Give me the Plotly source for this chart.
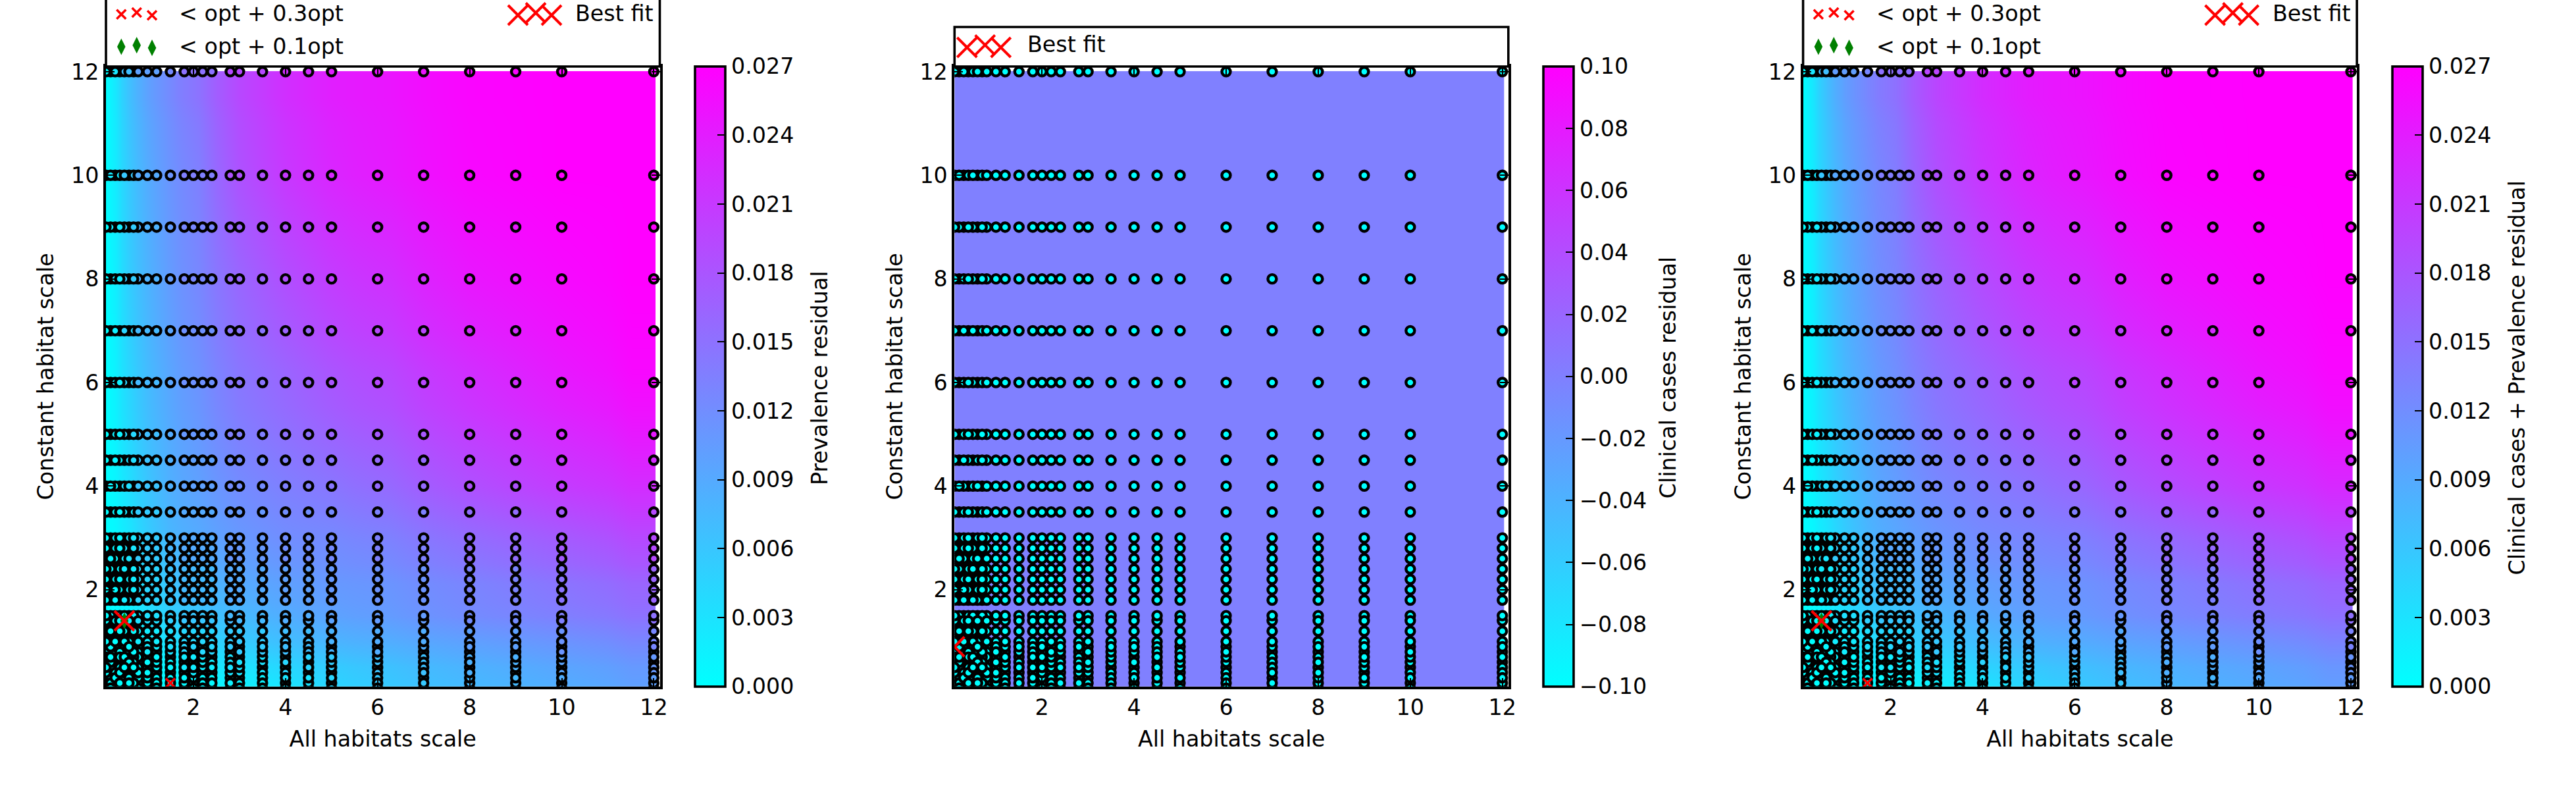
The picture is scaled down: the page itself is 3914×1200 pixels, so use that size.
import numpy as np
import plotly.graph_objects as go

# ---- data ----
scan_x = [0.1,0.2,0.3,0.4,0.5,0.6,0.7,0.8,1.0,1.2,1.5,1.8,2.0,2.2,2.4,2.8,3.0,3.5,4.0,4.5,5.0,6.0,7.0,8.0,9.0,10.0,12.0]
scan_y = [0.1,0.2,0.3,0.4,0.5,0.6,0.7,0.8,0.9,1.0,1.2,1.4,1.5,1.8,2.0,2.2,2.4,2.6,2.8,3.0,3.5,4.0,4.5,5.0,6.0,7.0,8.0,9.0,10.0,12.0]

# the residual surface is tabulated on these anchors (13 columns x 12 rows)
surface_x = [0.1,0.3,0.6,1,1.5,2,3,4,5,6,8,10,12]
surface_y = [0.1,0.5,1,1.5,2,3,4,5,6,8,10,12]
# cell edges of that table, as the colour mesh stops just inside the axes
surface_x_edges = [0.0,0.2,0.45,0.8,1.25,1.75,2.5,3.5,4.5,5.5,7,9,11,12.04]
surface_y_edges = [0.0,0.3,0.75,1.25,1.75,2.5,3.5,4.5,5.5,7,9,11,12.01]

# residuals, in thousandths
prevalence_milli = [
 [0,0,0,0,.3,.5,1.4,2.7,4.3,5.7,7.3,8.6,10],
 [0,0,0,.5,1.1,1.9,3,4.3,5.4,6.5,8.1,9.5,10.8],
 [0,0,.5,1.9,3.2,4.1,5.4,6.8,7.8,8.6,10,11.3,12.7],
 [0,.3,1.4,3.2,4.9,5.9,7.3,8.6,9.7,10.5,12.2,13.5,14.9],
 [0,.5,1.9,4.3,6.2,7.3,8.9,10,10.8,11.3,13,14.7,16.3],
 [0,.8,2.7,5.4,7.6,8.9,10.8,12,12.4,13.3,15.5,17.4,19.3],
 [0,1.1,3.5,6.2,8.4,10,12.2,13.5,14.5,15.8,18.5,20.7,22.3],
 [0,1.4,4.1,6.8,8.9,10.8,13.5,15,16.4,17.7,20.4,22.6,24.4],
 [0,1.6,4.6,7.3,9.5,11.6,14.6,16.4,18.1,19.5,22.2,24.5,26.2],
 [0,1.9,5.4,8.1,10.5,12.7,16.2,18.7,20.6,22,24.6,26,27],
 [0,2.2,5.9,8.9,11.3,13.5,18.4,21.1,23,24.3,26.2,27,27],
 [0,2.7,6.8,10,12.4,14.9,19.4,22.1,23.8,24.8,26.5,27,27],
]
combined_milli = [
 [0,0,0,0,.3,.5,1.4,2.7,4.3,5.7,7.5,8.9,10.3],
 [0,0,0,.5,1.1,1.9,3.2,4.6,5.7,6.8,8.4,9.7,11.1],
 [0,0,.5,1.9,3.2,4.1,5.7,7,8.1,8.9,10.3,11.6,13],
 [0,.3,1.4,3.2,4.9,5.9,7.6,8.9,10,10.8,12.4,13.8,15.1],
 [0,.5,1.9,4.3,6.2,7.3,9.2,10.2,11,11.6,13.3,15,16.5],
 [0,.8,2.7,5.4,7.6,9.2,11,12.3,12.8,13.6,15.8,17.8,19.6],
 [0,1.1,3.5,6.2,8.4,10.3,12.5,13.8,14.8,16.2,18.9,21.1,22.7],
 [0,1.4,4.1,6.8,9.2,11.1,13.8,15.3,16.7,18.1,20.8,23,24.7],
 [0,1.6,4.6,7.6,9.7,11.9,14.9,16.7,18.4,19.8,22.5,24.8,26.3],
 [0,1.9,5.4,8.4,10.8,13,16.5,19,20.9,22.3,24.9,26.2,27],
 [0,2.2,5.9,9.2,11.6,13.8,18.6,21.3,23.2,24.6,26.5,27,27],
 [0,2.7,6.8,10.3,12.7,15.1,19.7,22.4,24.1,25.1,26.7,27,27],
]
clinical_level = 0.0
clinical_marker_level = -0.1

best_fit_prev = (0.5, 1.4)
best_fit_clin = (0.1, 0.9)
near_03_x = [1.5]
near_03_y = [0.2]
near_01_x = [0.5]
near_01_y = [1.4]

axis_ticks = [2,4,6,8,10,12]
prev_ticks = [0.000,0.003,0.006,0.009,0.012,0.015,0.018,0.021,0.024,0.027]
clin_ticks = [-0.10,-0.08,-0.06,-0.04,-0.02,0.00,0.02,0.04,0.06,0.08,0.10]

x_title = "All habitats scale"
y_title = "Constant habitat scale"
cb_titles = ["Prevalence residual","Clinical cases residual","Clinical cases + Prevalence residual"]
legend_03 = "< opt + 0.3opt"
legend_01 = "< opt + 0.1opt"
legend_best = "Best fit"

# ---- layout in page pixels ----
W, H = 3914, 1200
FONT = "DejaVu Sans"
FS = 33.33
CS = [[0,"rgb(0,255,255)"],[1,"rgb(255,0,255)"]]
offsets = [0, 1289.3, 2578.6]
AX_L, AX_R, AX_T, AX_B = 161.0, 1002.5, 101.0, 1042.7
CB_L, CB_W = 1056.0, 46.0
XR = [0.1, 12.13]
YR = [0.133, 12.1]

fig = go.Figure()
gx = np.repeat(scan_x, len(scan_y))
gy = np.tile(scan_y, len(scan_x))
# draw order only: the reference's overlapping circles are not stacked row by row
idx = np.arange(gx.size)
draw_order = np.argsort((idx * idx * 37 + idx * 11) % 809, kind="stable")
gx, gy = gx[draw_order], gy[draw_order]

def lookup(table):
    t = np.array(table) / 1000
    ix = np.abs(np.subtract.outer(gx, surface_x)).argmin(axis=1)
    iy = np.abs(np.subtract.outer(gy, surface_y)).argmin(axis=1)
    return t[iy, ix]

panels = [
    (np.array(prevalence_milli)/1000, 0, 0.027, prev_ticks, ".3f", lookup(prevalence_milli), best_fit_prev),
    (np.full((len(surface_y), len(surface_x)), clinical_level), -0.1, 0.1, clin_ticks, ".2f", np.full(gx.shape, clinical_marker_level), best_fit_clin),
    (np.array(combined_milli)/1000, 0, 0.027, prev_ticks, ".3f", lookup(combined_milli), best_fit_prev),
]

annotations = []
shapes = []
for i, (z, zmin, zmax, ticks, fmt, mc, best) in enumerate(panels):
    off = offsets[i]
    sfx = "" if i == 0 else str(i + 1)
    xa, ya = "x" + sfx, "y" + sfx
    fig.add_trace(go.Heatmap(
        x=surface_x_edges, y=surface_y_edges, z=z, zmin=zmin, zmax=zmax, zsmooth="best",
        colorscale=CS, xaxis=xa, yaxis=ya, hoverinfo="skip",
        colorbar=dict(
            x=(CB_L + off) / W, xanchor="left", xpad=0, ypad=0,
            y=1 - AX_B / H, yanchor="bottom", len=AX_B - AX_T, lenmode="pixels",
            thickness=CB_W, thicknessmode="pixels", outlinewidth=3.6, outlinecolor="black",
            ticks="inside", ticklen=13, tickwidth=2, tickcolor="black",
            tickvals=ticks, tickformat=fmt, tickprefix="\u00a0\u00a0\u200a",
            tickfont=dict(family=FONT, size=FS, color="black"),
        ),
    ))
    fig.add_trace(go.Scatter(
        x=gx, y=gy, mode="markers", xaxis=xa, yaxis=ya, hoverinfo="skip", showlegend=False,
        marker=dict(symbol="circle", size=13, color=mc, cmin=zmin, cmax=zmax, colorscale=CS,
                    line=dict(color="black", width=4.4)),
    ))
    if i != 1:
        fig.add_trace(go.Scatter(x=near_01_x, y=near_01_y, mode="markers", xaxis=xa, yaxis=ya,
            hoverinfo="skip", showlegend=False,
            marker=dict(symbol="diamond-tall", size=18, color="green", line=dict(width=0))))
        fig.add_trace(go.Scatter(x=near_03_x, y=near_03_y, mode="markers", xaxis=xa, yaxis=ya,
            hoverinfo="skip", showlegend=False,
            marker=dict(symbol="x-thin", size=14, line=dict(color="red", width=3.5))))
    fig.add_trace(go.Scatter(x=[best[0]], y=[best[1]], mode="markers", xaxis=xa, yaxis=ya,
        hoverinfo="skip", showlegend=False,
        marker=dict(symbol="x-thin", size=30, line=dict(color="red", width=4))))

    common = dict(
        showline=True, linecolor="black", linewidth=3.6, mirror="ticks", ticks="inside", ticklen=13,
        tickwidth=2, tickcolor="black", showgrid=False, zeroline=False, tickvals=axis_ticks,
        tickfont=dict(family=FONT, size=FS, color="black"),
    )
    fig.layout["xaxis" + sfx] = dict(common, domain=[(AX_L + off) / W, (AX_R + off) / W], range=XR,
        anchor=ya, ticklabelstandoff=0,
        title=dict(text=x_title, font=dict(family=FONT, size=FS, color="black"), standoff=18))
    fig.layout["yaxis" + sfx] = dict(common, domain=[1 - AX_B / H, 1 - AX_T / H], range=YR,
        anchor=xa, ticklabelstandoff=0,
        title=dict(text=y_title, font=dict(family=FONT, size=FS, color="black"), standoff=17))

    annotations.append(dict(xref="paper", yref="paper", x=(1246 + off) / W, y=1 - 574 / H,
        text=cb_titles[i], textangle=-90, showarrow=False, xanchor="center", yanchor="middle",
        font=dict(family=FONT, size=FS, color="black")))

# ---- legend furniture: an overlay axis measured in page pixels ----
fig.layout["xaxis4"] = dict(domain=[0, 1], range=[0, W], visible=False, anchor="y4")
fig.layout["yaxis4"] = dict(domain=[0, 1], range=[H, 0], visible=False, anchor="x4")

def glyphs(xs, ys, symbol, size, color, lw):
    marker = dict(symbol=symbol, size=size, color=color, line=dict(width=lw, color=color))
    fig.add_trace(go.Scatter(x=xs, y=ys, mode="markers", xaxis="x4", yaxis="y4",
                             hoverinfo="skip", showlegend=False, marker=marker))

def label(x, y, text):
    annotations.append(dict(xref="paper", yref="paper", x=x / W, y=1 - y / H, text=text, showarrow=False,
        xanchor="left", yanchor="middle", font=dict(family=FONT, size=FS, color="black")))

for i, off in enumerate(offsets):
    top = 41 if i == 1 else -30
    shapes.append(dict(type="rect", xref="x4", yref="y4", x0=AX_L + off, x1=AX_R + off, y0=top, y1=AX_T,
                       fillcolor="white", line=dict(color="black", width=3.6), layer="below"))
    if i == 1:
        glyphs([1469.3, 1496.7, 1520.7], [72, 68.3, 72], "x-thin", 30, "red", 4)
        label(1559, 68, legend_best)
    else:
        glyphs([184.3 + off, 207.7 + off, 231 + off], [21.7, 19, 23.3], "x-thin", 14, "red", 3.5)
        glyphs([184.3 + off, 207.7 + off, 231 + off], [71, 68.7, 72.7], "diamond-tall", 18, "green", 0)
        glyphs([787 + off, 814 + off, 838 + off], [23, 19.5, 23], "x-thin", 30, "red", 4)
        label(270 + off, 20, legend_03)
        label(270 + off, 70, legend_01)
        label(872 + off, 20, legend_best)

fig.update_layout(width=W, height=H, margin=dict(l=0, r=0, t=0, b=0, autoexpand=False),
                  paper_bgcolor="white", plot_bgcolor="rgba(0,0,0,0)", showlegend=False,
                  annotations=annotations, shapes=shapes,
                  font=dict(family=FONT, size=FS, color="black"))

fig.write_html("out.html", config={"displayModeBar": False},
               post_script="document.body.style.margin='0';")
